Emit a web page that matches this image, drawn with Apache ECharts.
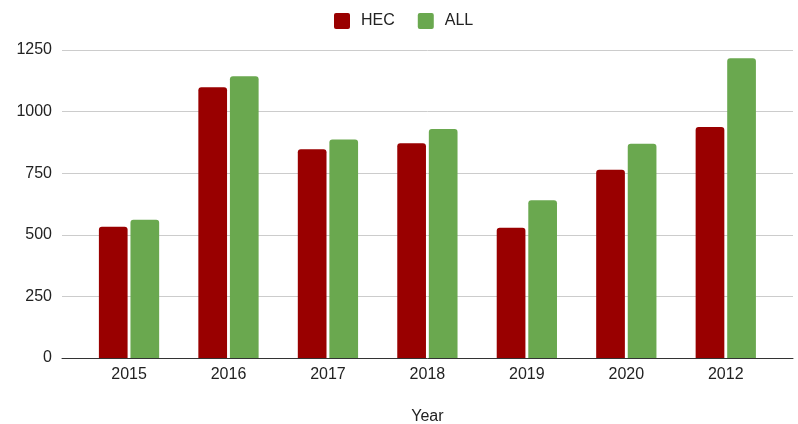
<!DOCTYPE html>
<html>
<head>
<meta charset="utf-8">
<script src="https://cdn.jsdelivr.net/npm/echarts@6/dist/echarts.min.js"></script>
<style>
  html, body { margin: 0; padding: 0; background: #fff; }
  #chart { width: 798px; height: 424px; }
</style>
</head>
<body>
<div id="chart"></div>
<script>
// Yearly counts: HEC subset vs. all records
const years = ['2015', '2016', '2017', '2018', '2019', '2020', '2012'];
const hecValues = [533, 1099, 847, 872, 529, 764, 937];
const allValues = [561, 1143, 887, 929, 640, 870, 1217];
const yTicks = [0, 250, 500, 750, 1000, 1250];

const FONT = '"Liberation Sans", Arial, sans-serif';
const yMin = yTicks[0];
const yMax = yTicks[yTicks.length - 1];
const yStep = yTicks[1] - yTicks[0];

// small square legend swatch with slightly rounded corners
const SWATCH = 'path://M2,0 H14 Q16,0 16,2 V14 Q16,16 14,16 H2 Q0,16 0,14 V2 Q0,0 2,0 Z';

const chart = echarts.init(document.getElementById('chart'), null, { renderer: 'canvas' });

chart.setOption({
  animation: false,
  backgroundColor: '#ffffff',
  textStyle: { fontFamily: FONT },
  legend: {
    top: 8,
    left: 329,
    itemWidth: 16,
    itemHeight: 16,
    itemGap: 23,
    icon: SWATCH,
    textStyle: { fontFamily: FONT, fontSize: 16, color: '#222', padding: [0, 0, 0, 6] },
    data: ['HEC', 'ALL']
  },
  grid: [
    // full-width frame carrying the value gridlines and baseline
    { left: 62, right: 5, top: 50, bottom: 66, containLabel: false, outerBoundsMode: 'none' },
    // inset plot area holding the bars
    { left: 79.3, right: 22.5, top: 50, bottom: 66, containLabel: false, outerBoundsMode: 'none' }
  ],
  xAxis: [
    {
      gridIndex: 0,
      type: 'category',
      data: years,
      axisLine: { show: true, lineStyle: { color: '#333', width: 1 } },
      axisTick: { show: false },
      axisLabel: { show: false },
      splitLine: { show: false }
    },
    {
      gridIndex: 1,
      type: 'category',
      data: years,
      axisLine: { show: false },
      axisTick: { show: false },
      axisLabel: { fontFamily: FONT, fontSize: 16, color: '#222', margin: 9 },
      name: 'Year',
      nameLocation: 'middle',
      nameGap: 51,
      nameTextStyle: { fontFamily: FONT, fontSize: 16, color: '#222' }
    }
  ],
  yAxis: [
    {
      gridIndex: 0,
      type: 'value',
      min: yMin,
      max: yMax,
      interval: yStep,
      axisLine: { show: false },
      axisTick: { show: false },
      axisLabel: {
        fontFamily: FONT, fontSize: 16, color: '#222', margin: 10,
        formatter: (v) => String(v)
      },
      splitLine: { show: true, lineStyle: { color: '#cccccc', width: 1 } }
    },
    {
      gridIndex: 1,
      type: 'value',
      min: yMin,
      max: yMax,
      interval: yStep,
      show: false,
      splitLine: { show: false }
    }
  ],
  series: [
    {
      name: 'HEC',
      type: 'bar',
      xAxisIndex: 1,
      yAxisIndex: 1,
      data: hecValues,
      barWidth: 28.7,
      barGap: '10%',
      itemStyle: { color: '#990000', borderRadius: [3, 3, 0, 0] },
      z: 3
    },
    {
      name: 'ALL',
      type: 'bar',
      xAxisIndex: 1,
      yAxisIndex: 1,
      data: allValues,
      barWidth: 28.7,
      barGap: '10%',
      itemStyle: { color: '#6aa84f', borderRadius: [3, 3, 0, 0] },
      z: 3
    }
  ]
});
</script>
</body>
</html>
